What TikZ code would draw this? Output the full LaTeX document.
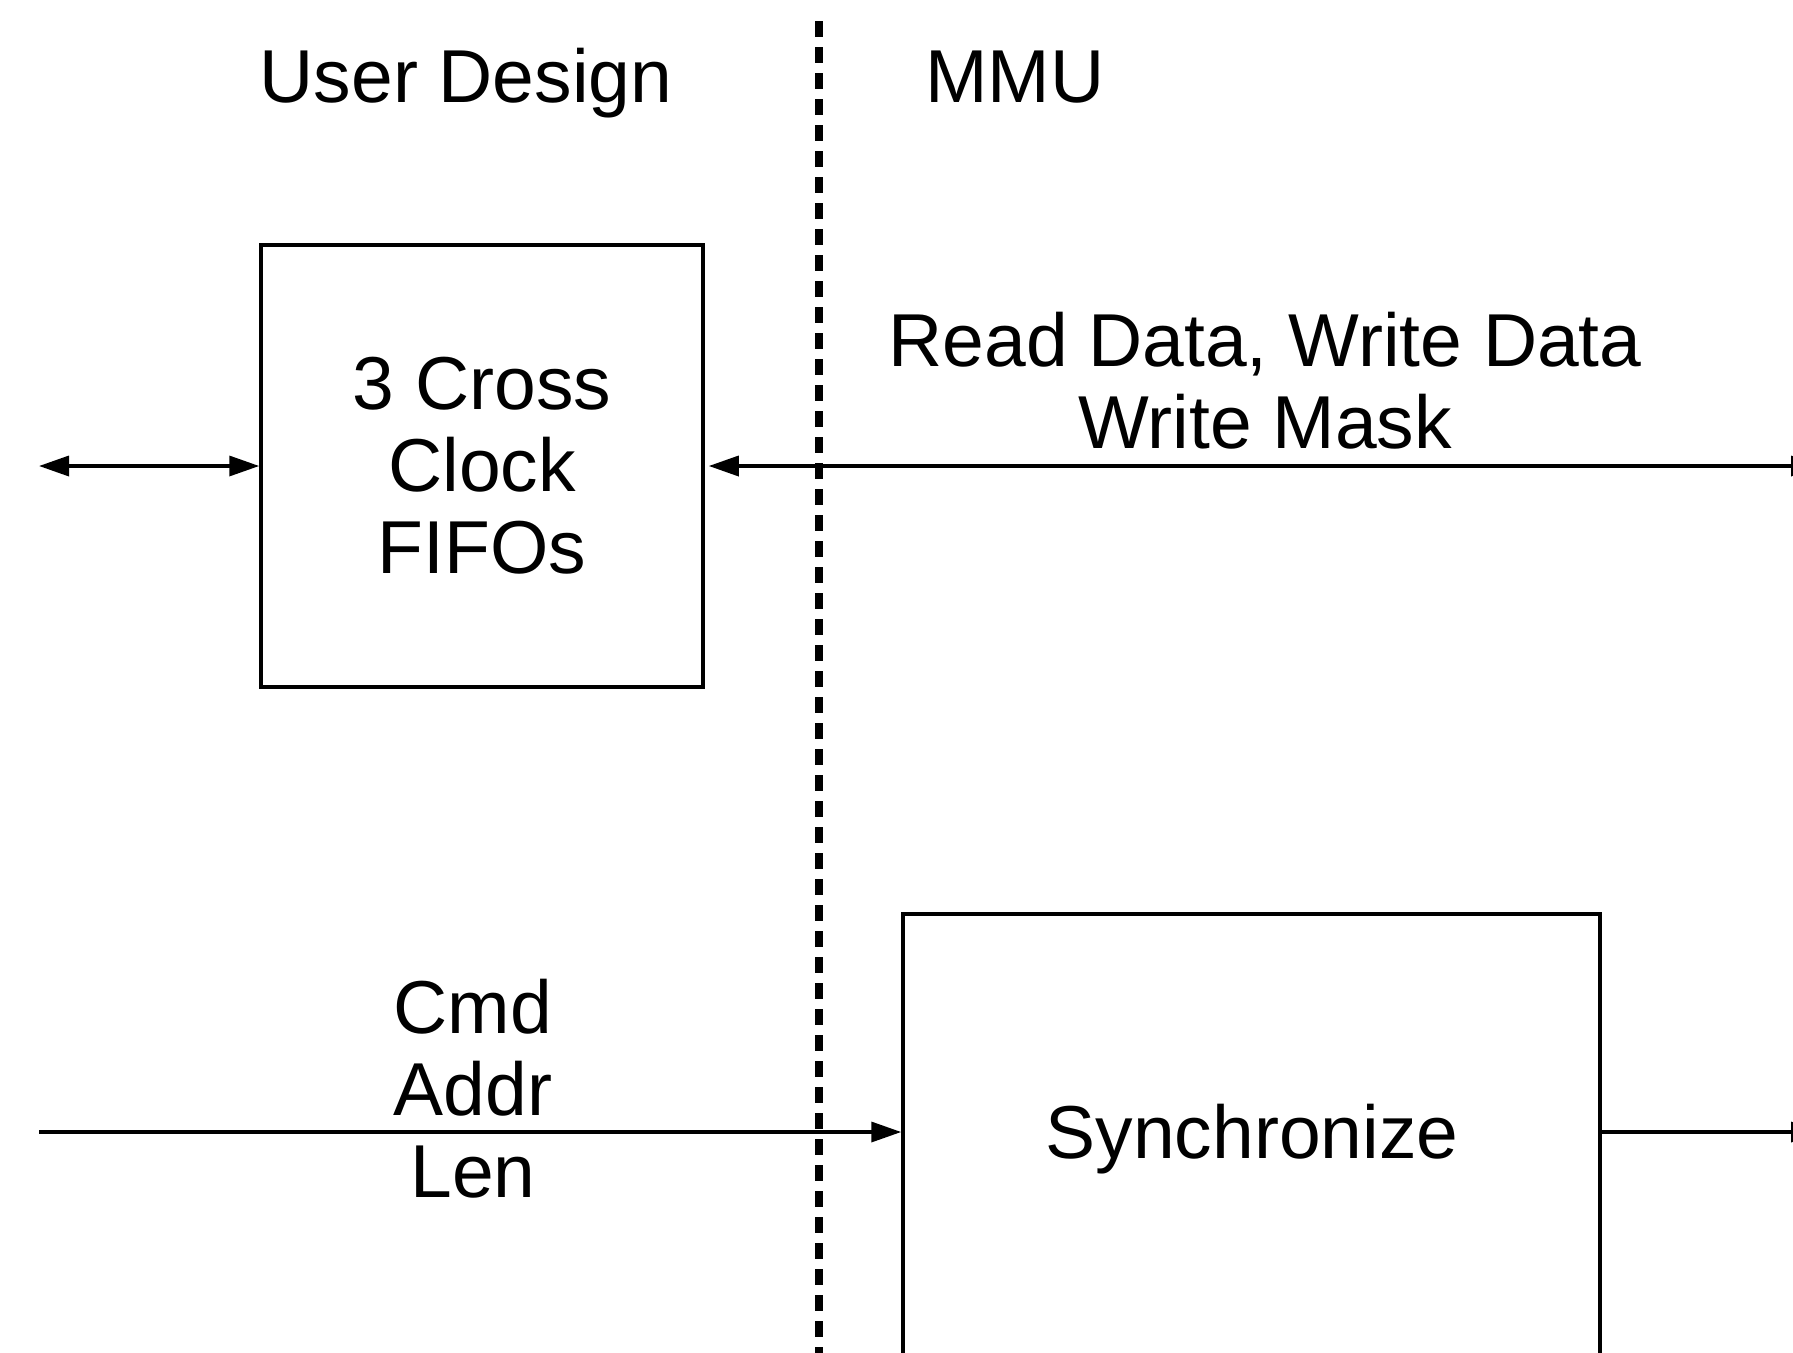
\documentclass[tikz,border=0pt]{standalone}
\usepackage{fontspec}
\setmainfont{Liberation Sans}
\usetikzlibrary{arrows.meta}
\begin{document}
\begin{tikzpicture}[x=1pt, y=-1pt,
  lbl/.style={font=\fontsize{75}{82}\selectfont, inner sep=0pt, align=center},
  wire/.style={line width=3.5pt},
  blk/.style={draw, line width=3.5pt, inner sep=0pt},
  fwd/.style={wire, -{Triangle[length=30pt, width=20pt]}},
  both/.style={wire, {Triangle[length=30pt, width=20pt]}-{Triangle[length=30pt, width=20pt]}},
  divider/.style={line width=8pt, dash pattern=on 16pt off 10pt}]
  \useasboundingbox (0,0) rectangle (1793,1352);
  \begin{scope}
    \clip (0,0) rectangle (1793,1352);

    % column headings
    \node[lbl, anchor=base] (ud)  at (466,102)  {User Design};
    \node[lbl, anchor=base] (mmu) at (1015,102) {MMU};

    % blocks
    \node[blk, lbl, draw, line width=3.5pt, minimum width=442pt, minimum height=442pt] (fifo)
      at (482,466) {3 Cross\\Clock\\FIFOs};
    \node[blk, minimum width=697pt, minimum height=600pt, anchor=north] (syncbox)
      at (1251.5,912) {};
    \node[lbl, anchor=base] (synctext) at (1252,1158) {Synchronize};

    % signal labels
    \node[lbl] (rd)  at (1265,381)  {Read Data, Write Data\\Write Mask};
    \node[lbl] (cal) at (473,1089)  {Cmd\\Addr\\Len};

    % free ends of the connectors
    \coordinate (lt) at (39,466);
    \coordinate (rt) at (1821,466);
    \coordinate (lb) at (39,1132);
    \coordinate (rb) at (1821,1132);

    % connectors
    \draw[both] (lt) -- (fifo.west);
    \draw[both, shorten <=4pt] (fifo.east) -- (rt);
    \draw[fwd] (lb) -- (lb -| syncbox.west);
    \draw[fwd] (lb -| syncbox.east) -- (rb);

    % clock domain boundary
    \coordinate (dtop) at (819,21);
    \coordinate (dbot) at (819,1370);
    \draw[divider] (dtop) -- (dbot);
  \end{scope}
\end{tikzpicture}
\end{document}
